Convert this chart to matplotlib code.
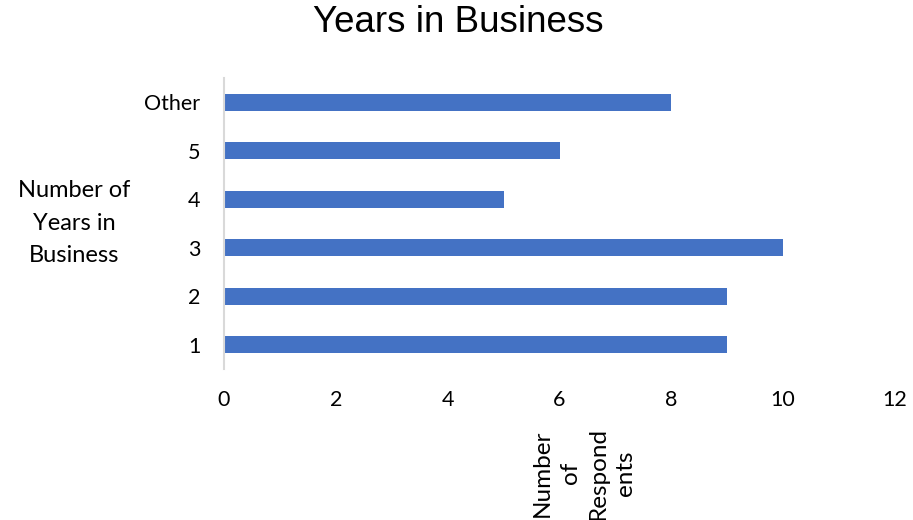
import matplotlib.pyplot as plt
import numpy as np

# survey: years in business vs number of respondents
categories = ['1', '2', '3', '4', '5', 'Other']
respondents = [9, 9, 10, 5, 6, 8]
x_ticks = [0, 2, 4, 6, 8, 10, 12]

plt.rcParams['font.family'] = ['Lato', 'DejaVu Sans']

fig = plt.figure(figsize=(9.13, 5.2), dpi=100)
ax = fig.add_axes([224/913, 1 - 369/520, 671/913, 291/520])

y = np.arange(len(categories))
ax.barh(y, respondents, height=0.35, color='#4472C4')

ax.set_xlim(0, 12)
ax.set_ylim(-0.5, len(categories) - 0.5)
ax.set_xticks(x_ticks)
ax.set_xticklabels([str(t) for t in x_ticks], fontsize=15.5)
ax.set_yticks(y)
ax.set_yticklabels(categories, fontsize=15.5)
ax.tick_params(axis='both', length=0)
ax.tick_params(axis='x', pad=15)
ax.tick_params(axis='y', pad=17)

for s in ['top', 'right', 'bottom']:
    ax.spines[s].set_visible(False)
ax.spines['left'].set_color('#d9d9d9')
ax.spines['left'].set_linewidth(1.5)

fig.text(458/913, 1 - 23/520, 'Years in Business', ha='center', va='center',
         fontsize=26.5, family=['Liberation Sans', 'DejaVu Sans'])
fig.text(74/913, 1 - 223/520, 'Number of\nYears in\nBusiness', ha='center', va='center',
         fontsize=17, linespacing=1.68)
fig.text(584/913, 1 - 473/520, 'Number\nof\nRespond\nents', ha='center', va='center',
         rotation=90, multialignment='center', fontsize=17.5, linespacing=1.4)

plt.savefig('out.png')
